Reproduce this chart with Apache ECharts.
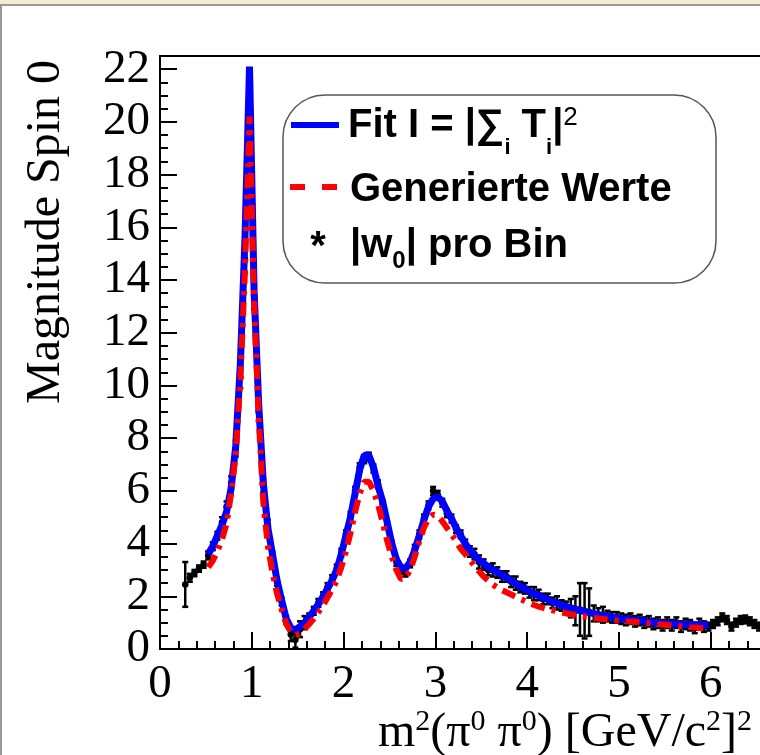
<!DOCTYPE html>
<html>
<head>
<meta charset="utf-8">
<title>Magnitude Spin 0</title>
<script src="https://cdn.jsdelivr.net/npm/echarts@6/dist/echarts.min.js"></script>
<style>
  html, body { margin: 0; padding: 0; background: #fff; }
  #chart { width: 760px; height: 755px; }
</style>
</head>
<body>
<div id="chart"></div>
<script>
// bins of 0.05 GeV^2, first bin centre at 0.275
const binStart = 0.275
const binWidth = 0.05

// |w0| pro Bin (black points)
const wValues = [
  2.45, 2.70, 2.88, 3.05, 3.20, 3.55, 3.90, 4.30, 4.80, 5.40,
  6.30, 7.60, 10.3, 14.8, 20.3, 13.4, 9.0, 6.2, 4.7, 3.5,
  2.55, 1.80, 1.10, 0.55, 0.35, 0.75, 1.00, 1.15, 1.45, 1.75,
  2.00, 2.35, 2.65, 3.05, 3.65, 4.35, 5.05, 6.00, 6.90, 7.20,
  7.30, 6.85, 6.25, 5.50, 4.70, 3.95, 3.30, 3.00, 2.90, 3.25,
  3.80, 4.35, 4.95, 5.45, 6.00, 5.85, 5.55, 5.15, 4.95, 4.55,
  4.35, 3.95, 3.70, 3.60, 3.30, 3.20, 3.00, 3.00, 2.90, 2.75,
  2.75, 2.55, 2.50, 2.35, 2.30, 2.15, 2.10, 2.05, 1.90, 1.90,
  1.75, 1.75, 1.65, 1.60, 1.55, 1.45, 1.50, 1.45, 1.40, 1.35,
  1.30, 1.30, 1.25, 1.20, 1.20, 1.15, 1.10, 1.15, 1.05, 1.10,
  1.00, 1.05, 0.95, 1.00, 0.90, 1.00, 0.90, 1.00, 0.85, 0.95,
  0.90, 0.80, 0.95, 0.85, 0.85, 0.95, 1.05, 1.20, 1.10, 0.85,
  1.00, 1.10, 1.12, 1.05, 0.95, 0.85, 0.80
]
const wErrors = [
  0.85, 0.15, 0.12, 0.12, 0.12, 0.15, 0.15, 0.15, 0.2, 0.2,
  0.25, 0.3, 0.4, 0.5, 0.6, 0.5, 0.35, 0.25, 0.2, 0.2,
  0.15, 0.15, 0.15, 0.25, 0.3, 0.3, 0.25, 0.2, 0.15, 0.15,
  0.15, 0.15, 0.15, 0.15, 0.15, 0.15, 0.15, 0.15, 0.15, 0.15,
  0.15, 0.15, 0.15, 0.15, 0.15, 0.15, 0.15, 0.15, 0.15, 0.15,
  0.15, 0.15, 0.15, 0.15, 0.15, 0.15, 0.15, 0.15, 0.15, 0.15,
  0.15, 0.2, 0.2, 0.2, 0.25, 0.2, 0.2, 0.25, 0.2, 0.2,
  0.2, 0.2, 0.25, 0.2, 0.2, 0.2, 0.25, 0.2, 0.2, 0.2,
  0.2, 0.25, 0.2, 0.2, 0.35, 0.55, 1.0, 1.05, 0.9, 0.3,
  0.25, 0.3, 0.2, 0.2, 0.2, 0.2, 0.2, 0.2, 0.2, 0.2,
  0.2, 0.2, 0.2, 0.2, 0.2, 0.2, 0.2, 0.2, 0.2, 0.2,
  0.2, 0.2, 0.2, 0.2, 0.15, 0.15, 0.15, 0.15, 0.15, 0.15,
  0.15, 0.15, 0.15, 0.15, 0.15, 0.15, 0.15
]

// curves at the bin centres from 0.525 to 5.975
const curveStart = 0.525
const fitValues = [
  3.60, 3.90, 4.30, 4.70, 5.20, 6.10, 7.70, 10.8, 15.5, 22.1,
  13.6, 9.3, 6.3, 4.6, 3.6, 2.6, 1.85, 1.15, 0.80, 0.72,
  0.85, 1.00, 1.20, 1.45, 1.70, 1.97, 2.30, 2.60, 3.00, 3.60,
  4.30, 5.00, 5.90, 6.80, 7.35, 7.35, 6.90, 6.20, 5.60, 4.80,
  4.00, 3.40, 3.10, 3.05, 3.30, 3.75, 4.30, 4.90, 5.40, 5.70,
  5.78, 5.60, 5.25, 4.95, 4.60, 4.30, 4.00, 3.75, 3.55, 3.38,
  3.25, 3.12, 3.00, 2.92, 2.82, 2.70, 2.60, 2.48, 2.38, 2.28,
  2.18, 2.10, 2.02, 1.95, 1.88, 1.80, 1.73, 1.67, 1.61, 1.56,
  1.51, 1.46, 1.42, 1.38, 1.34, 1.30, 1.27, 1.24, 1.21, 1.18,
  1.15, 1.13, 1.11, 1.09, 1.07, 1.05, 1.03, 1.01, 1.00, 0.98,
  0.97, 0.96, 0.95, 0.94, 0.93, 0.93, 0.92, 0.92, 0.91, 0.91
]
const genValues = [
  3.10, 3.35, 3.70, 4.15, 4.75, 5.90, 7.40, 10.2, 14.3, 20.2,
  13.2, 8.8, 5.6, 3.9, 2.9, 2.1, 1.5, 0.95, 0.65, 0.52,
  0.58, 0.75, 0.95, 1.15, 1.40, 1.65, 1.95, 2.25, 2.60, 3.10,
  3.70, 4.40, 5.20, 5.90, 6.35, 6.35, 6.00, 5.50, 4.80, 4.10,
  3.50, 3.00, 2.65, 2.70, 3.00, 3.50, 4.10, 4.60, 4.95, 5.10,
  5.05, 4.85, 4.60, 4.35, 4.10, 3.80, 3.60, 3.40, 3.15, 2.95,
  2.75, 2.60, 2.45, 2.33, 2.23, 2.15, 2.07, 1.98, 1.90, 1.82,
  1.74, 1.67, 1.61, 1.56, 1.51, 1.47, 1.43, 1.39, 1.35, 1.32,
  1.29, 1.26, 1.23, 1.21, 1.18, 1.16, 1.14, 1.12, 1.10, 1.08,
  1.07, 1.05, 1.04, 1.03, 1.01, 1.00, 0.98, 0.96, 0.94, 0.93,
  0.91, 0.90, 0.88, 0.86, 0.85, 0.83, 0.82, 0.80, 0.79, 0.78
]

const xMin = 0, xMax = 7, xStep = 1
const yMin = 0, yMax = 22.5, yStep = 2, yMinorStep = 0.5

const serif = '"Liberation Serif", "Times New Roman", serif'
const sans = '"Liberation Sans", Arial, sans-serif'

const centre = (start, i) => +(start + i * binWidth).toFixed(3)
const wData = wValues.map((v, i) => [centre(binStart, i), v, wErrors[i]])
const fitData = fitValues.map((v, i) => [centre(curveStart, i), v])
const genData = genValues.map((v, i) => [centre(curveStart, i), v])

// ROOT style point: dot, bin-wide horizontal bar, vertical error bar with caps
const renderPoint = (params, api) => {
  const x = api.value(0)
  const y = api.value(1)
  const e = api.value(2)
  const c = api.coord([x, y])
  const l = api.coord([x - binWidth / 2, y])
  const r = api.coord([x + binWidth / 2, y])
  const t = api.coord([x, y + e])
  const b = api.coord([x, y - e])
  const st = { stroke: '#000', lineWidth: 2.5 }
  return {
    type: 'group',
    children: [
      { type: 'line', shape: { x1: l[0], y1: l[1], x2: r[0], y2: r[1] }, style: st },
      { type: 'line', shape: { x1: t[0], y1: t[1], x2: b[0], y2: b[1] }, style: st },
      { type: 'line', shape: { x1: t[0] - 3, y1: t[1], x2: t[0] + 3, y2: t[1] }, style: st },
      { type: 'line', shape: { x1: b[0] - 3, y1: b[1], x2: b[0] + 3, y2: b[1] }, style: st },
      { type: 'circle', shape: { cx: c[0], cy: c[1], r: 3.3 }, style: { fill: '#000' } }
    ]
  }
}

const chart = echarts.init(document.getElementById('chart'))
chart.setOption({
  animation: false,
  backgroundColor: '#fff',
  grid: {
    left: 160,
    top: 56,
    width: 642.6,
    height: 593,
    outerBoundsMode: 'none',
    containLabel: false,
    show: true,
    borderColor: '#000',
    borderWidth: 2,
    backgroundColor: 'transparent'
  },
  xAxis: {
    type: 'value',
    min: xMin,
    max: xMax,
    interval: xStep,
    axisLine: { lineStyle: { color: '#000', width: 2 } },
    axisTick: { inside: true, length: 17, lineStyle: { color: '#000', width: 2 } },
    minorTick: { show: true, splitNumber: 5, length: 8, lineStyle: { color: '#000', width: 2 } },
    splitLine: { show: false },
    axisLabel: { color: '#000', fontFamily: serif, fontSize: 47, margin: 12 }
  },
  yAxis: [{
    type: 'value',
    min: yMin,
    max: yMax,
    interval: yStep,
    axisLine: { lineStyle: { color: '#000', width: 2 } },
    axisTick: { inside: true, length: 17, lineStyle: { color: '#000', width: 2 } },
    splitLine: { show: false },
    axisLabel: {
      color: '#000', fontFamily: serif, fontSize: 47, margin: 10,
      showMaxLabel: false,
      formatter: v => (v % yStep === 0 ? String(v) : '')
    }
  }, {
    // minor ticks every 0.5
    type: 'value',
    position: 'left',
    min: yMin,
    max: yMax,
    interval: yMinorStep,
    axisLine: { show: false },
    axisTick: { inside: true, length: 8, lineStyle: { color: '#000', width: 2 } },
    splitLine: { show: false },
    axisLabel: { show: false }
  }],
  series: [{
    name: '|w0| pro Bin',
    type: 'custom',
    renderItem: renderPoint,
    encode: { x: 0, y: 1 },
    data: wData,
    z: 2
  }, {
    name: 'Fit',
    type: 'line',
    data: fitData,
    showSymbol: false,
    lineStyle: { color: '#0000ff', width: 7, join: 'bevel' },
    z: 3
  }, {
    name: 'Generierte Werte',
    type: 'line',
    data: genData,
    showSymbol: false,
    lineStyle: { color: '#ff0000', width: 6, type: [14, 7, 4, 7] },
    z: 4
  }],
  graphic: [
    // frame of the surrounding canvas
    { type: 'rect', shape: { x: 0, y: 0, width: 760, height: 4 }, style: { fill: '#f2eed4' }, z: 20 },
    { type: 'line', shape: { x1: 0, y1: 5, x2: 760, y2: 5 }, style: { stroke: '#999', lineWidth: 2 }, z: 20 },
    { type: 'line', shape: { x1: 1, y1: 5, x2: 1, y2: 755 }, style: { stroke: '#999', lineWidth: 2 }, z: 20 },
    // y title
    {
      type: 'text', x: 46, y: 232, rotation: Math.PI / 2, z: 20,
      style: { text: 'Magnitude Spin 0', font: '48px ' + serif, fill: '#000', align: 'center', verticalAlign: 'middle' }
    },
    // x title
    {
      type: 'text', x: 378, y: 733, z: 20,
      style: {
        text: 'm{sup|2}(π{sup|0} π{sup|0}) [GeV/c{sup|2}]{sup|2}',
        font: '48px ' + serif, fill: '#000', align: 'left', verticalAlign: 'middle',
        rich: { sup: { fontSize: 30, fontFamily: serif, fill: '#000', padding: [0, 0, 22, 0] } }
      }
    },
    // legend
    {
      type: 'rect', z: 20,
      shape: { x: 283, y: 95, width: 433, height: 188, r: 42 },
      style: { fill: '#fff', stroke: '#555', lineWidth: 1.5 }
    },
    { type: 'line', z: 21, shape: { x1: 291, y1: 125, x2: 339, y2: 125 }, style: { stroke: '#0000ff', lineWidth: 6 } },
    { type: 'line', z: 21, shape: { x1: 290, y1: 187, x2: 338, y2: 187 }, style: { stroke: '#ff0000', lineWidth: 6, lineDash: [15, 17] } },
    {
      type: 'text', x: 318, y: 248, z: 21,
      style: { text: '*', font: 'bold 40px ' + sans, fill: '#000', align: 'center', verticalAlign: 'middle' }
    },
    {
      type: 'text', x: 348, y: 126, z: 21,
      style: {
        text: 'Fit I = |∑{sub|i} T{sub|i}|{sup|2}',
        font: 'bold 40px ' + sans, fill: '#000', align: 'left', verticalAlign: 'middle',
        rich: {
          sub: { fontSize: 22, fontWeight: 'bold', fontFamily: sans, fill: '#000', padding: [44, 0, 0, 0] },
          sup: { fontSize: 26, fontWeight: 'normal', fontFamily: sans, fill: '#000', padding: [0, 0, 16, 0] }
        }
      }
    },
    {
      type: 'text', x: 350, y: 190, z: 21,
      style: { text: 'Generierte Werte', font: 'bold 40px ' + sans, fill: '#000', align: 'left', verticalAlign: 'middle' }
    },
    {
      type: 'text', x: 350, y: 246, z: 21,
      style: {
        text: '|w{sub|0}| pro Bin',
        font: 'bold 40px ' + sans, fill: '#000', align: 'left', verticalAlign: 'middle',
        rich: { sub: { fontSize: 24, fontWeight: 'bold', fontFamily: sans, fill: '#000', padding: [30, 0, 0, 0] } }
      }
    }
  ]
})
</script>
</body>
</html>
